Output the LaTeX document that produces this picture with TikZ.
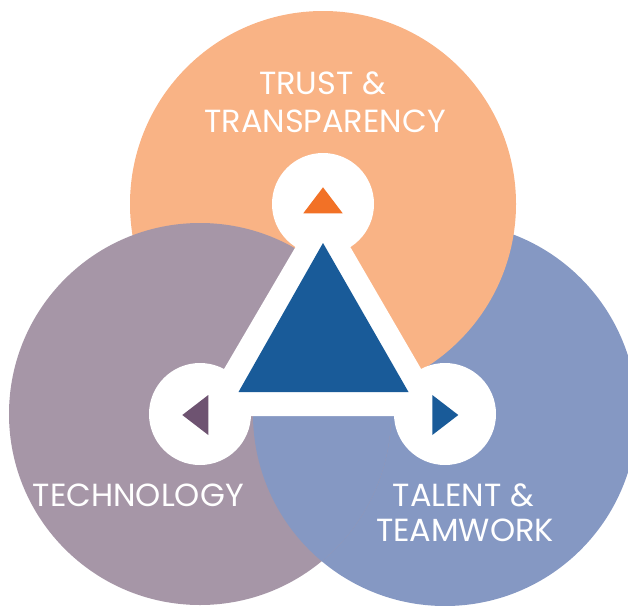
\documentclass[tikz,border=0pt]{standalone}
\usepackage{fontspec}
\setmainfont{Poppins}
\definecolor{peach}{HTML}{F9B385}
\definecolor{mauve}{HTML}{A696A7}
\definecolor{periwinkle}{HTML}{8598C3}
\definecolor{navy}{HTML}{195B99}
\definecolor{tangerine}{HTML}{F27126}
\definecolor{plum}{HTML}{6E5371}
\begin{document}
\begin{tikzpicture}[x=1pt,y=-1pt,
  label/.style={text=white,inner sep=0pt,anchor=base,font=\fontsize{32}{38}\selectfont},
  hub/.style={circle,fill=white,minimum size=102pt,inner sep=0pt}]
\useasboundingbox (0,0) rectangle (628,605);
% centres of the three large discs
\coordinate (cT) at (323,204);
\coordinate (cL) at (200,414);
\coordinate (cR) at (445,414);
% discs: blue, then orange over it, then purple over orange
\fill[periwinkle] (cR) circle[radius=192];
\fill[peach] (cT) circle[radius=193];
\fill[mauve] (cL) circle[radius=191];
% blue lies over purple where those two overlap
\begin{scope}
  \clip (cL) circle[radius=191];
  \fill[periwinkle] (cR) circle[radius=192];
\end{scope}
% white triangular frame
\fill[white,draw=white,line width=4pt,line join=miter] (cT) -- (cL) -- (cR) -- cycle;
% white hubs at the corners
\node[hub] (hubT) at (cT) {};
\node[hub] (hubL) at (cL) {};
\node[hub] (hubR) at (cR) {};
% central triangle, its corners reaching into the hubs
\fill[navy] (323,243) -- (238.5,392) -- (408.5,392) -- cycle;
% pointers inside the hubs
\fill[tangerine] (323,187.3) -- (303.3,213.3) -- (342.7,213.3) -- cycle;
\fill[plum] (182.3,415) -- (208.3,395) -- (208.3,435) -- cycle;
\fill[navy] (458.3,415) -- (432.3,395) -- (432.3,435) -- cycle;
% labels
\node[label] (trust1) at (322.5,94) {TRUST \&};
\node[label] (trust2) at (325,132) {TRANSPARENCY};
\node[label] (tech) at (138.3,506) {TECHNOLOGY};
\node[label] (talent1) at (463.3,506) {TALENT \&};
\node[label] (talent2) at (465,541) {TEAMWORK};
\end{tikzpicture}
\end{document}
